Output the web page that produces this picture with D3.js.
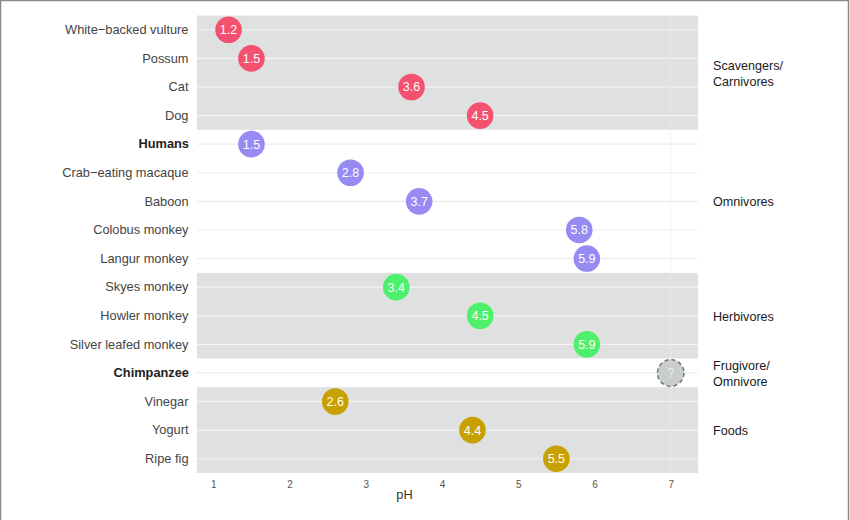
<!DOCTYPE html>
<html>
<head>
<meta charset="utf-8">
<script src="https://cdn.jsdelivr.net/npm/d3@7"></script>
<style>
  html, body { margin: 0; padding: 0; background: #fff; }
  svg { display: block; font-family: "Liberation Sans", Arial, Helvetica, sans-serif; }
</style>
</head>
<body>
<svg id="chart" width="850" height="520"></svg>
<script>
// ---- data ----
const species = ["White\u2212backed vulture", "Possum", "Cat", "Dog",
  "Humans", "Crab\u2212eating macaque", "Baboon", "Colobus monkey", "Langur monkey",
  "Skyes monkey", "Howler monkey", "Silver leafed monkey",
  "Chimpanzee",
  "Vinegar", "Yogurt", "Ripe fig"];
const phValues = [1.2, 1.5, 3.6, 4.5, 1.5, 2.8, 3.7, 5.8, 5.9, 3.4, 4.5, 5.9, 7, 2.6, 4.4, 5.5];
const valueLabels = ["1.2", "1.5", "3.6", "4.5", "1.5", "2.8", "3.7", "5.8", "5.9", "3.4", "4.5", "5.9", "?", "2.6", "4.4", "5.5"];
const groupOf = ["carn", "carn", "carn", "carn", "omni", "omni", "omni", "omni", "omni",
  "herb", "herb", "herb", "frug", "food", "food", "food"];
const groups = ["carn", "omni", "herb", "frug", "food"];
const groupLabels = [["Scavengers/", "Carnivores"], ["Omnivores"], ["Herbivores"], ["Frugivore/", "Omnivore"], ["Foods"]];
const boldRows = ["Humans", "Chimpanzee"];
const xTicks = [1, 2, 3, 4, 5, 6, 7];
const groupColors = { carn: "#f4506f", omni: "#978af2", herb: "#4cf06b", frug: "#c9cecb", food: "#c8a000" };
const groupShaded = { carn: true, omni: false, herb: true, frug: false, food: true };

// ---- layout ----
const svg = d3.select("#chart");
const plotL = 197, plotR = 698, plotT = 15.5, plotB = 473;

const x = d3.scaleLinear().domain([0.786, 7.358]).range([plotL, plotR]);
const y = d3.scaleBand().domain(species).range([plotT, plotB]).paddingInner(0).paddingOuter(0);
const yc = d => y(d) + y.bandwidth() / 2;

// image border (top/left/right)
svg.append("path").attr("d", "M0.5,520 L0.5,0.5 L848.5,0.5 L848.5,520")
  .attr("fill", "none").attr("stroke", "#8a8a8a").attr("stroke-width", 1.5);

// panels
groups.forEach((g, gi) => {
  const rows = species.filter((s, i) => groupOf[i] === g);
  const top = y(rows[0]);
  const bot = y(rows[rows.length - 1]) + y.bandwidth();
  const shaded = groupShaded[g];
  const gp = svg.append("g");
  gp.append("rect").attr("x", plotL).attr("y", top).attr("width", plotR - plotL).attr("height", bot - top)
    .attr("fill", shaded ? "#dfe1e1" : "#ffffff");
  const lineCol = shaded ? "#f3f4f4" : "#ececec";
  gp.selectAll("line.h").data(rows).join("line")
    .attr("x1", plotL).attr("x2", plotR)
    .attr("y1", d => yc(d)).attr("y2", d => yc(d))
    .attr("stroke", lineCol).attr("stroke-width", 1.1);
  gp.append("line").attr("x1", x(7)).attr("x2", x(7)).attr("y1", top).attr("y2", bot)
    .attr("stroke", shaded ? "#e6e8e8" : "#f3f3f3").attr("stroke-width", 1);
  // facet label
  const lines = groupLabels[gi];
  const mid = (top + bot) / 2 + 0.5;
  const lh = 16;
  gp.selectAll("text.f").data(lines).join("text")
    .attr("x", 713)
    .attr("y", (d, i) => mid + (i - (lines.length - 1) / 2) * lh)
    .attr("dy", "0.35em")
    .attr("font-size", 12.6).attr("fill", "#1a1a1a")
    .text(d => d);
});

// y labels
svg.append("g").selectAll("text").data(species).join("text")
  .attr("x", d => boldRows.includes(d) ? 189 : 188.5)
  .attr("y", d => yc(d)).attr("dy", "0.33em")
  .attr("text-anchor", "end")
  .attr("font-size", 12.8)
  .attr("font-weight", d => boldRows.includes(d) ? "bold" : "normal")
  .attr("fill", d => boldRows.includes(d) ? "#222" : "#444")
  .text(d => d);

// x axis
const xAxis = d3.axisBottom(x).tickValues(xTicks).tickSize(0).tickPadding(8).tickFormat(d3.format("d"));
const ax = svg.append("g").attr("transform", `translate(0,${plotB})`).call(xAxis);
ax.select(".domain").remove();
ax.selectAll("text").attr("font-size", 10).attr("fill", "#555")
  .attr("font-family", "'Liberation Sans', Arial, sans-serif");

svg.append("text").attr("x", (plotL + plotR) / 2 - 43).attr("y", 499)
  .attr("text-anchor", "middle").attr("font-size", 12.8).attr("fill", "#333").text("pH");

// points
const pts = svg.append("g").selectAll("g").data(species).join("g")
  .attr("transform", (d, i) => `translate(${x(phValues[i])},${yc(d)})`);
pts.append("circle").attr("r", 13.3)
  .attr("fill", (d, i) => groupColors[groupOf[i]])
  .attr("stroke", (d, i) => groupOf[i] === "frug" ? "#6e6e6e" : "none")
  .attr("stroke-width", 1.4)
  .attr("stroke-dasharray", (d, i) => groupOf[i] === "frug" ? "4,3" : null);
pts.append("text").attr("text-anchor", "middle").attr("dy", "0.36em")
  .attr("font-size", 12.5).attr("fill", (d, i) => groupOf[i] === "frug" ? "#eef0ef" : "#ffffff")
  .text((d, i) => valueLabels[i]);
</script>
</body>
</html>
